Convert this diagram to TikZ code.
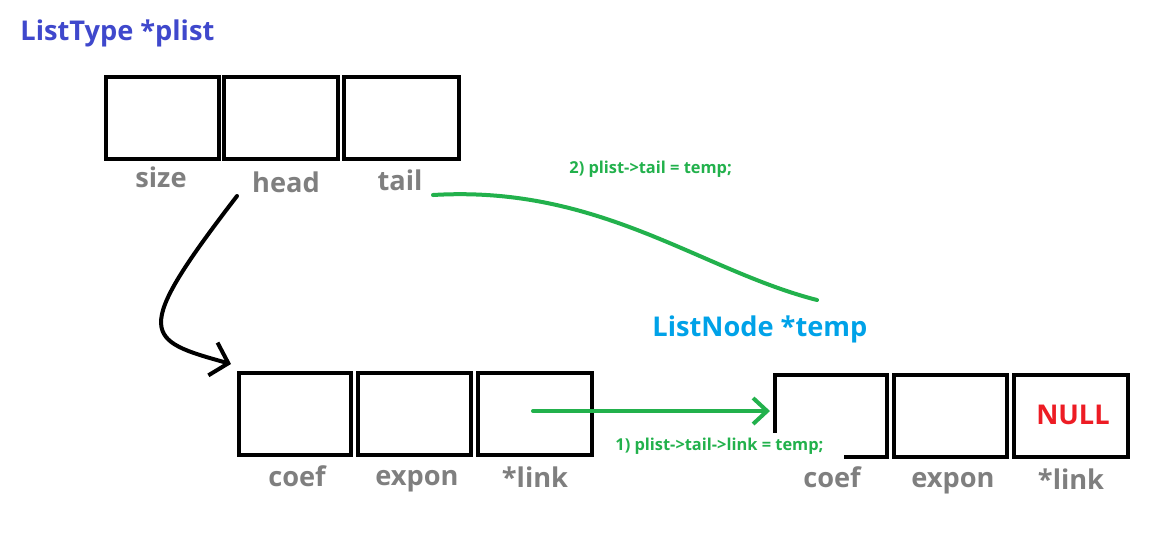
\documentclass[tikz,border=0pt]{standalone}
\usepackage{fontspec}
\setmainfont{Open Sans}
\usetikzlibrary{arrows.meta}
\definecolor{pgreen}{HTML}{22B14C}
\definecolor{pindigo}{HTML}{3F48CC}
\definecolor{pturq}{HTML}{00A2E8}
\definecolor{pred}{HTML}{ED1C24}
\definecolor{pgray}{HTML}{7F7F7F}
\newcommand\bigfont{\fontsize{13.6pt}{16pt}\selectfont\bfseries}
\newcommand\smallfont{\fontsize{8.2pt}{10pt}\selectfont\bfseries}
\begin{document}
\begin{tikzpicture}[x=0.5pt,y=-0.5pt,
  cell/.style={draw=black, line width=2pt, rectangle, inner sep=0pt, minimum height=41pt},
  fieldlbl/.style={anchor=base, text=pgray, font=\bigfont, inner sep=0pt},
  title/.style={anchor=base west, font=\bigfont, inner sep=0pt},
  code/.style={anchor=base west, text=pgreen, font=\smallfont, inner sep=0pt},
  ptr/.style={line width=2pt, line cap=round, line join=round}]
\useasboundingbox[fill=white] (0,0) rectangle (1160,538);

% titles
\node[title, text=pindigo] (tlist) at (20,40) {ListType *plist};
\node[title, text=pturq] (tnode) at (652,336) {ListNode *temp};

% ListType boxes
\node[cell, minimum width=56.3pt] (size) at (162.3,117.5) {};
\node[cell, minimum width=57pt] (head) at (281,117.5) {};
\node[cell, minimum width=57.5pt] (tail) at (401.5,117.5) {};
\node[fieldlbl] (lsize) at (161,187) {size};
\node[fieldlbl] (lhead) at (286,192) {head};
\node[fieldlbl] (ltail) at (400,190) {tail};

% first ListNode
\node[cell, minimum width=56pt] (acoef) at (295,414) {};
\node[cell, minimum width=56.5pt] (aexp) at (414.5,414) {};
\node[cell, minimum width=57pt] (alink) at (535,414) {};
\node[fieldlbl] (lacoef) at (297,486) {coef};
\node[fieldlbl] (laexp) at (417,485) {expon};
\node[fieldlbl] (lalink) at (535,487) {*link};

% temp ListNode
\node[cell, minimum width=56pt] (bcoef) at (831,416) {};
\node[cell, minimum width=56.5pt] (bexp) at (950.5,416) {};
\node[cell, minimum width=57pt] (blink) at (1071,416) {};
\node[anchor=base, text=pred, font=\bigfont, inner sep=0pt] (null) at (1073,424) {NULL};
\node[fieldlbl] (lbcoef) at (832,487) {coef};
\node[fieldlbl] (lbexp) at (953,487) {expon};
\node[fieldlbl] (lblink) at (1071,489) {*link};

% erased corner under label 1
\fill[white] (768,433) rectangle (844,464);

% code labels
\node[code] (c1) at (615,450) {1) plist->tail->link = temp;};
\node[code] (c2) at (569,173) {2) plist->tail = temp;};

% head pointer
\coordinate (hs) at (237,196);
\coordinate (he) at (231,364);
\draw[ptr, -{Straight Barb[length=8pt,width=17pt,line width=2pt]}] (hs) .. controls (130,335) and (145,340) .. (he);

% link pointer
\coordinate (ls) at (533,411);
\coordinate (le) at (770,411);
\draw[ptr, pgreen, -{Straight Barb[length=7pt,width=13pt,line width=2pt]}] (ls) -- (le);

% tail curve
\coordinate (ts) at (433,195);
\coordinate (te) at (817,300);
\draw[ptr, pgreen] (ts) .. controls (600,185) and (700,270) .. (te);
\end{tikzpicture}
\end{document}
